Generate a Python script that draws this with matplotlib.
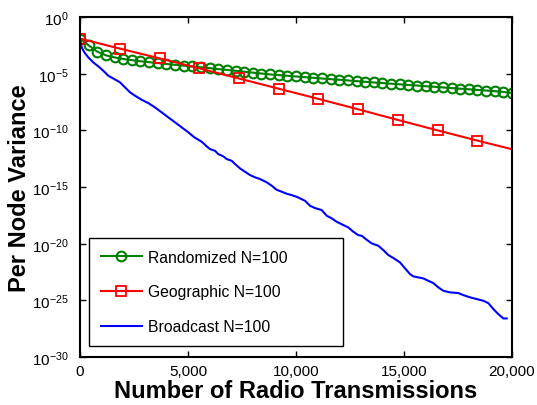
import numpy as np
import matplotlib.pyplot as plt
from matplotlib.ticker import FixedLocator, FuncFormatter

plt.rcParams['font.family'] = ['Liberation Sans', 'DejaVu Sans']
plt.rcParams['mathtext.fontset'] = 'custom'
plt.rcParams['mathtext.rm'] = 'Liberation Sans'
plt.rcParams['mathtext.default'] = 'regular'

# ---------------------------------------------------------
# data (variance stored as log10 exponents)
# ---------------------------------------------------------
rand_x = np.arange(0, 20001, 400)
rand_log = [-1.90, -2.50, -3.05, -3.38, -3.56, -3.70, -3.80, -3.90, -3.98,
            -4.06, -4.14, -4.21, -4.29, -4.36, -4.43, -4.50, -4.59, -4.66,
            -4.74, -4.82, -4.90, -4.98, -5.06, -5.12, -5.18, -5.24, -5.30,
            -5.36, -5.42, -5.48, -5.53, -5.59, -5.65, -5.71, -5.77, -5.82,
            -5.88, -5.93, -5.99, -6.04, -6.10, -6.15, -6.21, -6.26, -6.32,
            -6.37, -6.43, -6.48, -6.54, -6.60, -6.70]

geo_x = [0, 1840, 3680, 5520, 7360, 9200, 11040, 12880, 14720, 16560,
         18400, 20000]
geo_log = [-1.90, -2.78, -3.64, -4.52, -5.42, -6.32, -7.22, -8.14, -9.08,
           -10.00, -10.90, -11.66]

bc_x = [0, 79, 199, 384, 616, 847, 1079, 1310, 1588, 1852, 2083, 2315,
        2546, 2856, 3162, 3472, 3782, 4088, 4398, 4708, 5014, 5292, 5634,
        5866, 6019, 6250, 6403, 6634, 6792, 7023, 7176, 7407, 7639, 7870,
        8102, 8333, 8644, 8875, 9106, 9338, 9569, 9801, 10032, 10185, 10417,
        10648, 10880, 11190, 11421, 11653, 11884, 12190, 12421, 12653, 12884,
        13042, 13273, 13505, 13810, 14042, 14273, 14505, 14815, 15046, 15278,
        15431, 15662, 15894, 16125, 16356, 16588, 16819, 17130, 17514, 17745,
        18056, 18366, 18671, 18903, 19134, 19366, 19597, 19755]
bc_log = [-1.90, -2.67, -3.11, -3.56, -4.00, -4.35, -4.74, -5.18, -5.47,
          -5.76, -6.20, -6.64, -6.94, -7.30, -7.59, -7.97, -8.41, -8.85,
          -9.29, -9.73, -10.17, -10.61, -11.00, -11.41, -11.65, -11.80,
          -12.09, -12.29, -12.53, -12.68, -12.97, -13.35, -13.65, -13.94,
          -14.14, -14.29, -14.58, -14.88, -15.24, -15.41, -15.59, -15.71,
          -15.86, -16.00, -16.21, -16.65, -16.85, -17.03, -17.53, -17.76,
          -18.06, -18.35, -18.56, -18.94, -19.24, -19.30, -19.65, -19.97,
          -20.18, -20.56, -21.00, -21.26, -21.65, -22.17, -22.68, -22.88,
          -22.97, -23.06, -23.27, -23.47, -23.85, -24.15, -24.29, -24.35,
          -24.53, -24.73, -24.88, -25.03, -25.24, -25.76, -26.21, -26.59,
          -26.59]

x_ticks = [0, 5000, 10000, 15000, 20000]
y_ticks = [1e0, 1e-5, 1e-10, 1e-15, 1e-20, 1e-25, 1e-30]

# ---------------------------------------------------------
# plotting
# ---------------------------------------------------------
fig = plt.figure(figsize=(5.37, 4.06), dpi=100)
ax = fig.add_axes([0.149, 0.118, 0.8045, 0.8375])

ax.plot(rand_x, 10.0 ** np.array(rand_log), color=(0, 0.5, 0), lw=1.5,
        marker='o', ms=7, mfc='none', mew=1.5, label='Randomized N=100')
ax.plot(geo_x, 10.0 ** np.array(geo_log), color='r', lw=1.5,
        marker='s', ms=6.5, mfc='none', mew=1.3,
        markevery=list(range(11)), label='Geographic N=100')
ax.plot(bc_x, 10.0 ** np.array(bc_log), color='b', lw=1.5,
        label='Broadcast N=100')

ax.set_yscale('log')
ax.set_xlim(0, 20000)
ax.set_ylim(1e-30, 1e0)
ax.xaxis.set_major_locator(FixedLocator(x_ticks))
ax.xaxis.set_major_formatter(FuncFormatter(lambda v, p: f'{int(v):,}'))
ax.yaxis.set_major_locator(FixedLocator(y_ticks))
ax.yaxis.set_minor_locator(FixedLocator([]))
ax.yaxis.set_major_formatter(
    FuncFormatter(lambda v, p: r'$10^{%d}$' % round(np.log10(v))))
ax.tick_params(direction='in', length=4, width=1, labelsize=11,
               top=True, right=True, pad=5)
ax.tick_params(axis='y', pad=8)
for s in ax.spines.values():
    s.set_linewidth(1.5)

ax.set_xlabel('Number of Radio Transmissions', fontsize=17,
              fontweight='bold', labelpad=1)
ax.set_ylabel('Per Node Variance', fontsize=17, fontweight='bold',
              labelpad=1)

leg = ax.legend(loc='lower left', bbox_to_anchor=(0.0215, 0.033, 0.5865, 0.3),
                mode='expand', borderaxespad=0, fontsize=11.3, fancybox=False,
                edgecolor='k', framealpha=1, handlelength=2.6,
                handletextpad=0.4, labelspacing=1.25, borderpad=0.75)
leg.get_frame().set_linewidth(1.0)

plt.savefig('out.png', dpi=100)
